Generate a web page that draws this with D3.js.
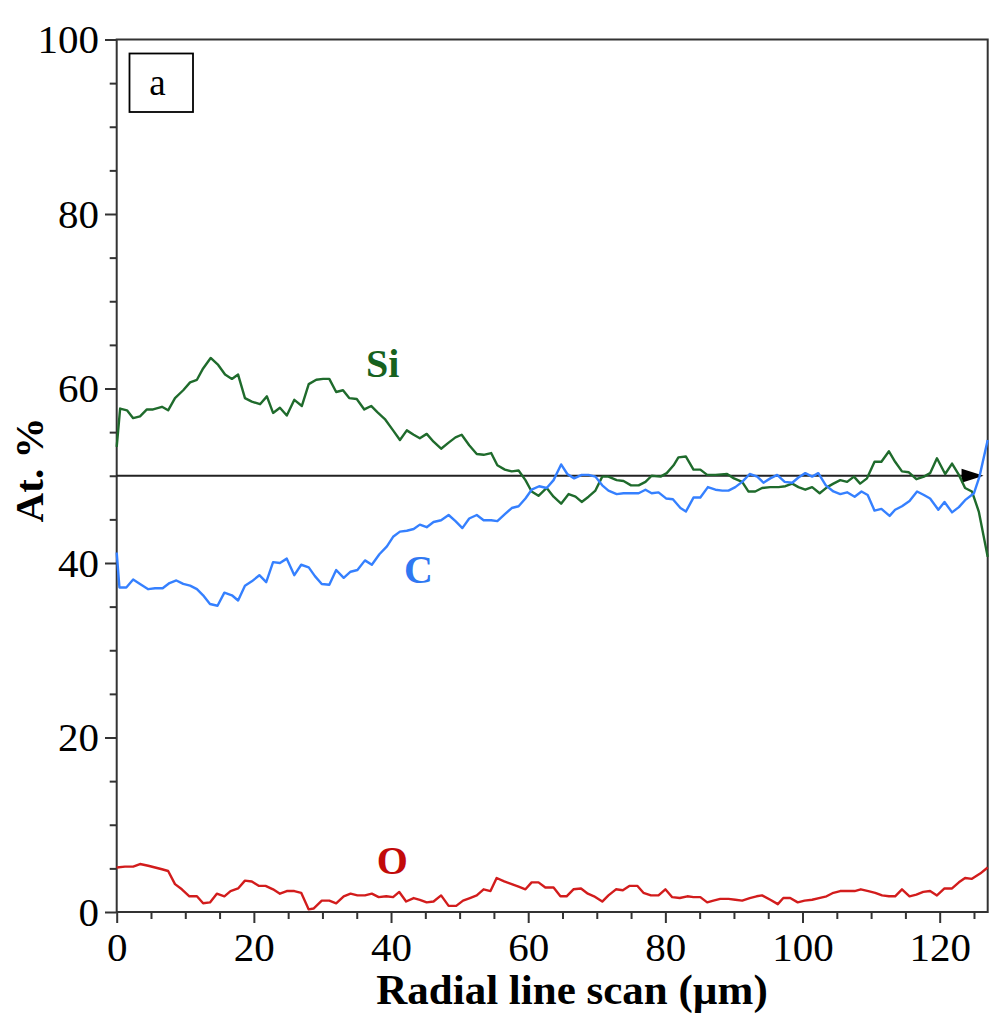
<!DOCTYPE html>
<html>
<head>
<meta charset="utf-8">
<script src="https://cdn.jsdelivr.net/npm/d3@7"></script>
<style>
  html, body { margin: 0; padding: 0; background: #fff; }
  svg { display: block; }
  text { font-family: "Liberation Serif", "Times New Roman", "DejaVu Serif", serif; }
</style>
</head>
<body>
<svg id="chart" width="993" height="1023"></svg>
<script>
// ---------- data ----------
const xTickValues = [0, 20, 40, 60, 80, 100, 120];
const yTickValues = [0, 20, 40, 60, 80, 100];
const xDomain = [0, 127];
const yDomain = [0, 100];

const siData = [[0,53.3],[0.5,57.7],[1.5,57.5],[2.4,56.6],[3.4,56.8],[4.4,57.6],[5.3,57.6],[6.6,57.9],[7.5,57.5],[8.5,58.9],[9.7,59.8],[10.7,60.7],[11.7,61.0],[12.6,62.3],[13.7,63.5],[14.8,62.7],[15.8,61.6],[16.8,61.1],[17.7,61.6],[18.7,58.9],[19.7,58.5],[20.9,58.2],[21.9,59.1],[22.8,57.2],[23.8,57.8],[24.8,56.9],[25.9,58.7],[27.0,58.0],[28.0,60.5],[29.1,61.0],[30.1,61.1],[31.0,61.1],[32.0,59.6],[33.0,59.8],[33.9,58.9],[35.0,58.8],[36.1,57.6],[37.1,58.0],[38.0,57.3],[39.1,56.5],[40.3,55.2],[41.3,54.1],[42.3,55.2],[43.3,54.7],[44.2,54.3],[45.2,54.8],[46.2,53.9],[47.3,53.1],[48.4,53.8],[49.4,54.4],[50.3,54.7],[51.4,53.5],[52.5,52.5],[53.5,52.4],[54.6,52.6],[55.5,51.2],[56.6,50.7],[57.6,50.5],[58.6,50.6],[59.6,49.5],[60.5,48.2],[61.5,47.7],[62.7,48.6],[63.7,47.6],[64.8,46.8],[65.9,47.9],[66.9,47.6],[67.8,47.0],[68.8,47.6],[69.8,48.3],[70.8,49.9],[71.7,49.9],[72.9,49.5],[73.9,49.4],[75.0,48.9],[76.1,48.9],[77.1,49.3],[78.0,50.0],[79.3,49.9],[80.2,50.3],[81.2,51.2],[81.9,52.1],[83.0,52.2],[84.1,50.7],[85.1,50.7],[86.1,50.1],[87.3,50.1],[89.0,50.2],[90.0,49.7],[91.2,49.3],[92.1,48.2],[93.1,48.2],[94.1,48.6],[95.3,48.7],[96.5,48.7],[97.5,48.8],[98.5,49.1],[99.4,48.7],[100.4,48.4],[101.4,48.7],[102.5,48.0],[103.6,48.7],[104.5,49.1],[105.5,49.5],[106.5,49.3],[107.5,49.9],[108.4,49.1],[109.4,49.7],[110.5,51.6],[111.5,51.6],[112.6,52.8],[113.5,51.6],[114.5,50.5],[115.5,50.4],[116.6,49.6],[117.7,49.9],[118.6,50.3],[119.6,52.0],[120.8,50.2],[121.8,51.4],[122.8,50.1],[123.7,48.6],[124.7,48.2],[125.7,45.9],[127,40.7]];

const cData = [[0,41.2],[0.4,37.2],[1.4,37.2],[2.4,38.1],[3.4,37.6],[4.6,37.0],[5.6,37.1],[6.7,37.1],[7.7,37.7],[8.7,38.0],[9.7,37.6],[10.7,37.4],[11.7,37.0],[12.6,36.3],[13.6,35.3],[14.7,35.1],[15.7,36.6],[16.8,36.3],[17.7,35.7],[18.7,37.4],[19.7,37.9],[20.8,38.6],[21.8,37.8],[22.8,40.1],[23.8,40.0],[24.8,40.5],[25.9,38.6],[26.9,39.8],[28.0,39.5],[28.9,38.5],[29.9,37.6],[31.0,37.5],[32.0,39.2],[33.1,38.3],[34.1,39.0],[35.1,39.2],[36.2,40.3],[37.2,39.8],[38.3,41.0],[39.4,41.9],[40.3,43.0],[41.3,43.6],[42.3,43.7],[43.3,43.9],[44.2,44.4],[45.2,44.1],[46.2,44.7],[47.3,44.9],[48.4,45.5],[49.4,44.8],[50.4,44.0],[51.4,45.1],[52.5,45.5],[53.5,44.9],[54.6,44.9],[55.5,44.8],[56.6,45.6],[57.6,46.3],[58.6,46.5],[59.6,47.4],[60.5,48.4],[61.6,48.8],[62.7,48.6],[63.7,49.5],[64.8,51.3],[65.7,50.2],[66.7,49.7],[67.8,50.1],[68.8,50.1],[69.8,49.9],[70.8,48.9],[71.7,48.3],[72.9,47.9],[73.9,48.0],[75.0,48.0],[76.1,48.0],[77.1,48.4],[78.0,48.0],[79.0,48.1],[80.1,47.4],[81.1,47.3],[82.2,46.3],[83.0,45.9],[84.1,47.5],[85.1,47.5],[86.2,48.7],[87.3,48.4],[88.3,48.3],[89.2,48.3],[90.2,48.7],[91.2,49.3],[92.3,50.2],[93.4,49.9],[94.3,49.2],[95.3,49.7],[96.3,50.1],[97.4,49.3],[98.5,49.2],[99.4,49.8],[100.4,50.3],[101.4,49.9],[102.3,50.3],[103.4,48.9],[104.5,48.2],[105.5,47.9],[106.5,48.1],[107.6,47.6],[108.6,48.2],[109.5,47.8],[110.5,46.0],[111.5,46.2],[112.7,45.4],[113.5,46.1],[114.5,46.5],[115.6,47.1],[116.7,48.2],[117.7,47.8],[118.6,47.4],[119.8,46.1],[120.7,47.0],[121.8,45.8],[122.8,46.4],[123.7,47.2],[125.0,48.0],[125.8,49.9],[127,54.1]];

const oData = [[0,5.1],[1.2,5.2],[2.4,5.2],[3.4,5.5],[4.6,5.3],[5.6,5.1],[6.6,4.9],[7.5,4.7],[8.5,3.2],[9.5,2.6],[10.6,1.8],[11.7,1.8],[12.6,1.0],[13.6,1.1],[14.6,2.1],[15.7,1.8],[16.6,2.4],[17.7,2.7],[18.7,3.6],[19.7,3.5],[20.7,3.0],[21.7,3.0],[22.8,2.6],[23.8,2.1],[24.8,2.4],[25.9,2.4],[26.9,2.2],[28.0,0.3],[28.7,0.4],[29.9,1.3],[31.0,1.3],[32.0,1.0],[33.1,1.8],[34.1,2.1],[35.1,1.9],[36.2,1.9],[37.2,2.1],[38.2,1.7],[39.3,1.8],[40.3,1.7],[41.2,2.3],[42.2,1.2],[43.3,1.6],[44.2,1.4],[45.2,1.1],[46.2,1.2],[47.3,1.9],[48.4,0.7],[49.5,0.7],[50.5,1.3],[51.5,1.6],[52.5,1.9],[53.5,2.6],[54.5,2.4],[55.4,3.9],[56.5,3.5],[57.6,3.2],[58.6,2.9],[59.6,2.6],[60.5,3.4],[61.5,3.4],[62.5,2.8],[63.7,2.8],[64.7,1.8],[65.6,1.8],[66.6,2.6],[67.7,2.7],[68.7,2.1],[69.6,1.8],[70.8,1.2],[71.7,1.9],[72.8,2.6],[73.8,2.5],[74.8,3.0],[75.9,3.0],[76.8,2.2],[77.9,1.9],[79.0,1.9],[80.0,2.6],[81.0,1.7],[82.1,1.6],[83.2,1.8],[84.1,1.7],[85.1,1.7],[86.1,1.1],[87.0,1.3],[88.0,1.5],[89.2,1.5],[90.2,1.4],[91.2,1.3],[92.3,1.6],[93.3,1.8],[94.1,1.9],[95.3,1.4],[96.4,0.9],[97.2,1.6],[98.2,1.6],[99.3,1.1],[100.3,1.3],[101.4,1.4],[102.4,1.6],[103.5,1.8],[104.5,2.2],[105.5,2.4],[106.5,2.4],[107.6,2.4],[108.5,2.6],[109.6,2.4],[110.6,2.2],[111.6,1.9],[112.6,1.8],[113.5,1.8],[114.5,2.6],[115.6,1.8],[116.6,2.0],[117.6,2.3],[118.6,2.4],[119.6,1.9],[120.7,2.7],[121.8,2.7],[122.8,3.4],[123.7,3.9],[124.7,3.8],[125.9,4.4],[127,5.1]];

const seriesNames = ["Si", "C", "O"];
const labelPositions = [[38.8, 61.3], [44.0, 37.7], [40.2, 4.4]]; // [x centre, baseline y] in data units
const refLineY = 50;
const refLineX = [0, 126.4];
const panelLabel = "a";
const xTitle = "Radial line scan (\u00b5m)";
const yTitle = "At. %";

// ---------- styles ----------
const lineColors = ["#1f6b2c", "#3580ff", "#d21c1c"];
const labelColors = ["#17621f", "#2f78f2", "#c20a0a"];

// ---------- layout ----------
const svg = d3.select("#chart");
const x = d3.scaleLinear().domain(xDomain).range([116.7, 987.7]);
const y = d3.scaleLinear().domain(yDomain).range([912, 39.5]);

const axisColor = "#333";

// minor ticks
const yMinor = d3.range(0, 101, 5).filter(v => v % 20 !== 0);
const xMinor = d3.range(0, 127, 5).filter(v => v % 20 !== 0);

const gy = svg.append("g").attr("transform", `translate(${x(0)},0)`)
  .call(d3.axisLeft(y).tickValues(yTickValues).tickSize(11.7).tickPadding(6).tickFormat(d3.format("d")));
const gyMinor = svg.append("g").attr("transform", `translate(${x(0)},0)`)
  .call(d3.axisLeft(y).tickValues(yMinor).tickSize(7).tickFormat(""));
const gx = svg.append("g").attr("transform", `translate(0,${y(0)})`)
  .call(d3.axisBottom(x).tickValues(xTickValues).tickSize(11).tickPadding(9).tickFormat(d3.format("d")));
const gxMinor = svg.append("g").attr("transform", `translate(0,${y(0)})`)
  .call(d3.axisBottom(x).tickValues(xMinor).tickSize(7).tickFormat(""));

[gy, gyMinor, gx, gxMinor].forEach(g => {
  g.select(".domain").remove();
  g.selectAll(".tick line").attr("stroke", axisColor).attr("stroke-width", 2);
  g.selectAll(".tick text").attr("fill", "#000").style("font-size", "41px")
    .style("font-family", '"Liberation Serif", "Times New Roman", serif');
});

// frame
svg.append("rect")
  .attr("x", x(0)).attr("y", y(100))
  .attr("width", x(127) - x(0)).attr("height", y(0) - y(100))
  .attr("fill", "none").attr("stroke", axisColor).attr("stroke-width", 2);

// reference line with arrow
svg.append("line")
  .attr("x1", x(refLineX[0])).attr("x2", x(refLineX[1]) - 10)
  .attr("y1", y(refLineY)).attr("y2", y(refLineY))
  .attr("stroke", "#222").attr("stroke-width", 2);
const tipX = x(refLineX[1]), tipY = y(refLineY);
svg.append("path")
  .attr("d", `M${tipX},${tipY} L${tipX - 22},${tipY - 7} L${tipX - 22},${tipY + 7} Z`)
  .attr("fill", "#000");

// series
const line = d3.line().x(d => x(d[0])).y(d => y(d[1]));
const allSeries = [siData, cData, oData];
allSeries.forEach((data, i) => {
  svg.append("path")
    .datum(data)
    .attr("d", line)
    .attr("fill", "none")
    .attr("stroke", lineColors[i])
    .attr("stroke-width", 2.4)
    .attr("stroke-linejoin", "round");
});

// series labels
seriesNames.forEach((name, i) => {
  svg.append("text")
    .attr("x", x(labelPositions[i][0]))
    .attr("y", y(labelPositions[i][1]))
    .attr("text-anchor", "middle")
    .attr("fill", labelColors[i])
    .style("font-size", "40px")
    .style("font-weight", "bold")
    .text(name);
});

// panel label box
svg.append("rect")
  .attr("x", 129.5).attr("y", 53.5).attr("width", 63.5).attr("height", 58.5)
  .attr("fill", "#fff").attr("stroke", "#000").attr("stroke-width", 1.8);
svg.append("text")
  .attr("x", 157.5).attr("y", 95)
  .attr("text-anchor", "middle")
  .style("font-size", "37px")
  .text(panelLabel);

// axis titles
svg.append("text")
  .attr("x", 572).attr("y", 1004)
  .attr("text-anchor", "middle")
  .style("font-size", "43px")
  .style("font-weight", "bold")
  .text(xTitle);

svg.append("text")
  .attr("transform", `translate(43,470) rotate(-90)`)
  .attr("text-anchor", "middle")
  .style("font-size", "41px")
  .style("font-weight", "bold")
  .text(yTitle);
</script>
</body>
</html>
